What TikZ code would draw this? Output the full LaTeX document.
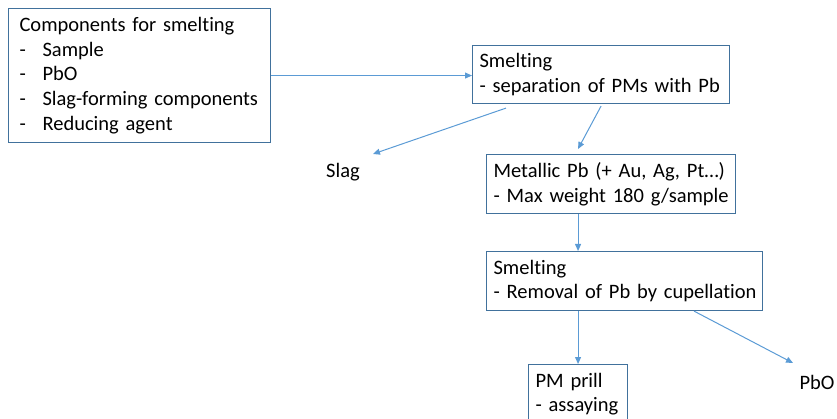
\documentclass[tikz,border=0pt]{standalone}
\usepackage{fontspec}
\setmainfont[Ligatures=NoCommon, WordSpace=0.8]{Carlito}
\usepackage{tikz}
\usetikzlibrary{arrows.meta,positioning,calc}
\definecolor{boxblue}{HTML}{41719C}
\definecolor{arrowblue}{HTML}{5B9BD5}

\tikzset{
    stagebox/.style={draw=boxblue, line width=1.1pt, anchor=north west, align=left,
        inner xsep=7pt, inner ysep=0pt, font=\fontsize{20.5}{24.8}\selectfont},
    plainlabel/.style={inner sep=0pt, font=\fontsize{20.5}{24.8}\selectfont},
    flow/.style={arrowblue, line width=1pt, -{Triangle[length=7pt,width=6pt]}}
}
\newcommand{\listdash}{\makebox[23pt][l]{-}}
\hfuzz=60pt

\begin{document}
\frenchspacing
\begin{tikzpicture}[x=1pt, y=-1pt]
    \clip (0,0) rectangle (837,419);

    % Boxes
    \node[stagebox, inner xsep=11pt, text width=240pt, minimum height=134pt] (comp) at (8,8)
        {Components for smelting\\ \listdash Sample\\ \listdash PbO\\
         \listdash Slag-forming components\\ \listdash Reducing agent};
    \node[stagebox, text width=243pt, minimum height=58pt] (sepa) at (472,45)
        {Smelting\\ \mbox{- separation of PMs with Pb}};
    \node[stagebox, text width=235pt, minimum height=59pt] (metal) at (486,154)
        {\mbox{Metallic Pb (+ Au, Ag, Pt\ldots)}\\ \mbox{- Max weight 180 g/sample}};
    \node[stagebox, text width=262pt, minimum height=59pt] (cupel) at (486,251)
        {Smelting\\ \mbox{- Removal of Pb by cupellation}};
    \node[stagebox, text width=85pt, minimum height=59pt] (prill) at (528,364)
        {PM prill\\ - assaying};

    % Outputs
    \node[plainlabel] (slag) at (343,172) {Slag};
    \node[plainlabel] (pbo) at (817,382) {PbO};

    % Arrows
    \draw[flow] (comp.east) -- (comp.east -| sepa.west);
    \draw[flow] ([shift={(34pt,-4pt)}]sepa.south west) -- ([shift={(30pt,18pt)}]slag.center);
    \draw[flow] ([yshift=-2pt]sepa.south) -- ([shift={(92pt,5pt)}]metal.north west);
    \draw[flow] (metal.south -| prill.north) -- (cupel.north -| prill.north);
    \draw[flow] (cupel.south -| prill.north) -- (prill.north);
    \draw[flow] ([xshift=208pt]cupel.south west) -- ([shift={(-24pt,19pt)}]pbo.center);
\end{tikzpicture}
\end{document}
